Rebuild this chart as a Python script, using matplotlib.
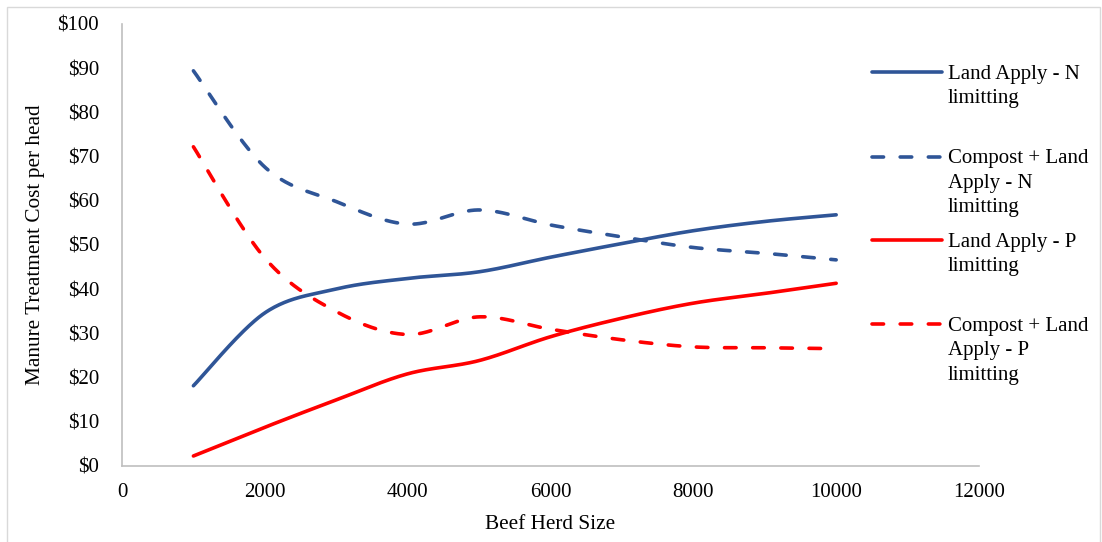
import numpy as np
import matplotlib
matplotlib.use("Agg")
import matplotlib.pyplot as plt
from matplotlib.lines import Line2D
from matplotlib.patches import Rectangle

# ---- data -------------------------------------------------------------
herd_size = [1000, 2000, 3000, 4000, 5000, 6000, 7000, 8000, 9000, 10000]
land_apply_n = [18.1, 34.6, 40.0, 42.4, 43.9, 47.2, 50.3, 53.2, 55.3, 56.8]
compost_land_n = [89.4, 67.6, 59.8, 54.7, 57.9, 54.5, 51.8, 49.4, 48.1, 46.6]
land_apply_p = [2.2, 8.7, 14.9, 20.8, 23.8, 29.2, 33.4, 36.8, 39.0, 41.3]
compost_land_p = [72.2, 47.0, 34.9, 29.7, 33.7, 30.9, 28.5, 26.9, 26.7, 26.5]

series_labels = ["Land Apply - N\nlimitting",
                 "Compost + Land\nApply - N\nlimitting",
                 "Land Apply - P\nlimitting",
                 "Compost + Land\nApply - P\nlimitting"]
x_ticks = [0, 2000, 4000, 6000, 8000, 10000, 12000]
y_ticks = [0, 10, 20, 30, 40, 50, 60, 70, 80, 90, 100]

BLUE = "#2F5597"
RED = "#FF0000"
DASH = (0, (3.2, 4.6))
LW = 2.6

W, H = 1102, 542
plt.rcParams["font.family"] = ["Liberation Serif", "DejaVu Serif"]
plt.rcParams["font.size"] = 15


def smooth_curve(xs, ys, n=60):
    """Cubic Bezier smoothing through every point (spreadsheet-style)."""
    pts = np.column_stack([xs, ys]).astype(float)
    padded = np.vstack([pts[:1], pts, pts[-1:]])
    t = np.linspace(0, 1, n)[:, None]
    out = []
    for i in range(len(pts) - 1):
        p0, p3 = pts[i], pts[i + 1]
        c1 = p0 + (padded[i + 2] - padded[i]) / 6.0
        c2 = p3 - (padded[i + 3] - padded[i + 1]) / 6.0
        seg = ((1 - t) ** 3) * p0 + 3 * ((1 - t) ** 2) * t * c1 \
            + 3 * (1 - t) * t ** 2 * c2 + t ** 3 * p3
        out.append(seg if i == 0 else seg[1:])
    curve = np.vstack(out)
    return curve[:, 0], curve[:, 1]


fig = plt.figure(figsize=(W / 100, H / 100), dpi=100)
ax = fig.add_axes([122 / W, 1 - 465.7 / H, (979 - 122) / W, (465.7 - 24) / H])

series = [
    (land_apply_n, BLUE, "-"),
    (compost_land_n, BLUE, DASH),
    (land_apply_p, RED, "-"),
    (compost_land_p, RED, DASH),
]
for values, color, ls in series:
    sx, sy = smooth_curve(herd_size, values)
    ax.plot(sx, sy, color=color, lw=LW, linestyle=ls,
            solid_capstyle="round", dash_capstyle="round")

ax.set_xlim(0, 12000)
ax.set_ylim(0, 100)
ax.set_xticks(x_ticks)
ax.set_xticklabels([str(v) for v in x_ticks])
ax.set_yticks(y_ticks)
ax.set_yticklabels([f"${v}" for v in y_ticks])
ax.tick_params(axis="both", length=0, labelsize=15, colors="black")
ax.tick_params(axis="y", pad=16.5)
ax.tick_params(axis="x", pad=12.5)

for side in ("top", "right"):
    ax.spines[side].set_visible(False)
for side in ("left", "bottom"):
    ax.spines[side].set_color("#BFBFBF")
    ax.spines[side].set_linewidth(1.2)

ax.set_xlabel("Beef Herd Size", fontsize=15.3, labelpad=9.5)
ax.set_ylabel("Manure Treatment Cost per head", fontsize=15.3, labelpad=9)

# legend drawn at the right of the plot area
legend_y = [72.3, 156.7, 240.3, 324.3]
line_gap = 24.5
for label, (values, color, ls), y in zip(series_labels, series, legend_y):
    fig.add_artist(Line2D([872 / W, 942 / W], [1 - y / H, 1 - y / H],
                          transform=fig.transFigure, color=color, lw=LW,
                          linestyle=ls, solid_capstyle="round",
                          dash_capstyle="round"))
    for k, part in enumerate(label.split("\n")):
        fig.text(948 / W, 1 - (y + k * line_gap + 6.5) / H, part,
                 ha="left", va="baseline", fontsize=15, color="black")

# chart area border
fig.add_artist(Rectangle((7 / W, -0.05), (1100 - 7) / W, 1 - 7 / H + 0.05,
                         transform=fig.transFigure, fill=False,
                         edgecolor="#D9D9D9", lw=1.0))

fig.savefig("out.png", dpi=100)
